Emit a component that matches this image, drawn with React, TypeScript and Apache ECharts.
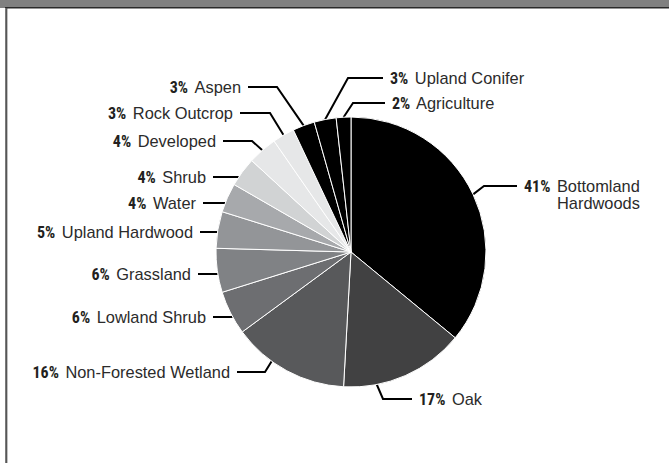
import React, { useEffect, useRef } from "react";
import * as echarts from "echarts";

const categories = [
  "Bottomland Hardwoods",
  "Oak",
  "Non-Forested Wetland",
  "Lowland Shrub",
  "Grassland",
  "Upland Hardwood",
  "Water",
  "Shrub",
  "Developed",
  "Rock Outcrop",
  "Aspen",
  "Upland Conifer",
  "Agriculture",
];
const values = [41, 17, 16, 6, 6, 5, 4, 4, 4, 3, 3, 3, 2];
const labelNames = [
  "Bottomland\nHardwoods",
  "Oak",
  "Non-Forested Wetland",
  "Lowland Shrub",
  "Grassland",
  "Upland Hardwood",
  "Water",
  "Shrub",
  "Developed",
  "Rock Outcrop",
  "Aspen",
  "Upland Conifer",
  "Agriculture",
];
const sliceColors = [
  "#000000",
  "#414142",
  "#58595b",
  "#6d6e71",
  "#808285",
  "#939598",
  "#a7a9ac",
  "#d1d3d4",
  "#e6e7e8",
  "#e6e7e8",
  "#000000",
  "#000000",
  "#000000",
];

// Label placement (layout only): side, leader line y, elbow x (null = horizontal
// from the pie edge), end x of leader line, optional leader start angle (deg, clockwise from top)
type Spec = { side: "left" | "right"; y: number; elbow: number | null; end: number; angle?: number };
const labelSpec: Spec[] = [
  { side: "right", y: 186, elbow: 484, end: 517 },
  { side: "right", y: 399, elbow: 383, end: 412, angle: 169 },
  { side: "left", y: 372, elbow: 265, end: 237, angle: 216 },
  { side: "left", y: 317, elbow: null, end: 213 },
  { side: "left", y: 274, elbow: null, end: 198 },
  { side: "left", y: 232, elbow: null, end: 200 },
  { side: "left", y: 203, elbow: null, end: 203 },
  { side: "left", y: 177, elbow: null, end: 213 },
  { side: "left", y: 141, elbow: 252, end: 223 },
  { side: "left", y: 113, elbow: 270, end: 240 },
  { side: "left", y: 87, elbow: 277, end: 248 },
  { side: "right", y: 78, elbow: 348, end: 383 },
  { side: "right", y: 103, elbow: 353, end: 385 },
];

const CX = 351;
const CY = 252;
const R = 135;
const GAP = 7;
const LINE_H = 17;
const TEXT = "#231f20";

export default function App() {
  const ref = useRef<HTMLDivElement>(null);
  useEffect(() => {
    document.body.style.margin = "0";
    const chart = echarts.init(ref.current!, undefined, { renderer: "svg" });
    chart.setOption({
      animation: false,
      backgroundColor: "#ffffff",
      graphic: [
        { type: "rect", shape: { x: 0, y: 0, width: 669, height: 8 }, style: { fill: "#808080" }, silent: true },
        { type: "rect", shape: { x: 5, y: 7, width: 664, height: 1.5 }, style: { fill: "#2a2a2a" }, silent: true },
        { type: "rect", shape: { x: 5, y: 8, width: 2, height: 455 }, style: { fill: "#7a7a7a" }, silent: true },
        { type: "rect", shape: { x: 6.5, y: 8, width: 0.8, height: 455 }, style: { fill: "#333333" }, silent: true },
      ],
      series: [
        {
          type: "pie",
          center: [CX, CY],
          radius: R,
          startAngle: 90,
          clockwise: true,
          avoidLabelOverlap: false,
          itemStyle: { borderColor: "#ffffff", borderWidth: 1 },
          label: {
            show: true,
            position: "outside",
            color: TEXT,
            formatter: (p: any) => {
              const parts = labelNames[p.dataIndex].split("\n");
              let s = `{p|${p.value}%}{n| ${parts[0]}}`;
              if (parts[1]) s += `\n{s|}{n|${parts[1]}}`;
              return s;
            },
            rich: {
              p: {
                fontFamily: "'Liberation Sans Narrow', 'Roboto Condensed', Roboto, sans-serif",
                fontWeight: "bold",
                fontSize: 16,
                color: TEXT,
                lineHeight: LINE_H,
                padding: [0, 2, 0, 0],
              },
              n: {
                fontFamily: "'Liberation Sans', sans-serif",
                fontSize: 16.4,
                color: "#2b2b2b",
                lineHeight: LINE_H,
              },
              s: { width: 33, lineHeight: LINE_H },
            },
          },
          labelLine: {
            show: true,
            length: 18,
            length2: 24,
            lineStyle: { color: "#000000", width: 2 },
          },
          labelLayout: (params: any) => {
            const spec = labelSpec[params.dataIndex];
            if (!spec) return {};
            let start: number[];
            if (spec.elbow === null) {
              const dy = spec.y - CY;
              const dx = Math.sqrt(Math.max(R * R - dy * dy, 0));
              const ex = spec.side === "left" ? CX - dx : CX + dx;
              start = [ex, spec.y];
            } else if (spec.angle !== undefined) {
              const a = (spec.angle * Math.PI) / 180;
              start = [CX + R * Math.sin(a), CY - R * Math.cos(a)];
            } else {
              start = params.labelLinePoints ? params.labelLinePoints[0] : [CX, CY];
            }
            const elbowX = spec.elbow === null ? start[0] : spec.elbow;
            const multi = labelNames[params.dataIndex].indexOf("\n") >= 0;
            return {
              x: spec.side === "left" ? spec.end - GAP : spec.end + GAP,
              y: multi ? spec.y - LINE_H / 2 : spec.y,
              align: spec.side === "left" ? "right" : "left",
              verticalAlign: multi ? "top" : "middle",
              labelLinePoints: [start, [elbowX, spec.y], [spec.end, spec.y]],
            };
          },
          data: categories.map((c, i) => ({
            name: c,
            value: values[i],
            itemStyle: { color: sliceColors[i] },
          })),
        },
      ],
    });
    return () => chart.dispose();
  }, []);
  return <div ref={ref} style={{ width: 669, height: 463 }} />;
}
